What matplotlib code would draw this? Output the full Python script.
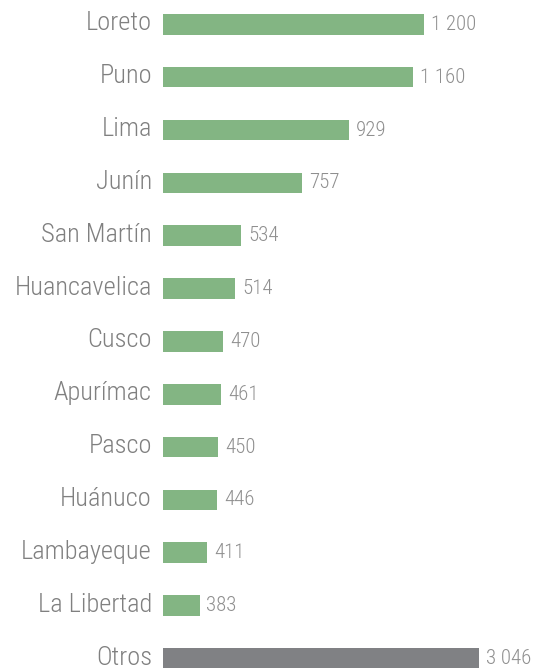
import matplotlib.pyplot as plt
from matplotlib import font_manager
from matplotlib.textpath import TextPath
from matplotlib.font_manager import FontProperties

regiones = ['Loreto', 'Puno', 'Lima', 'Junín', 'San Martín', 'Huancavelica', 'Cusco',
            'Apurímac', 'Pasco', 'Huánuco', 'Lambayeque', 'La Libertad', 'Otros']
valores = [1200, 1160, 929, 757, 534, 514, 470, 461, 450, 446, 411, 383, 3046]
etiquetas = ['1 200', '1 160', '929', '757', '534', '514', '470', '461', '450', '446',
             '411', '383', '3 046']

verde = '#83b583'
gris_barra = '#808184'
gris_texto = '#808080'

# buscar una fuente estrecha
nombres = {f.name for f in font_manager.fontManager.ttflist}
familia, estiramiento = 'DejaVu Sans', 'condensed'
for n in ['Roboto Condensed', 'Liberation Sans Narrow', 'Open Sans Condensed']:
    if n in nombres:
        familia, estiramiento = n, 'normal'
        break
peso = 'light'

def tam_para(texto, ancho_px):
    fp = FontProperties(family=familia, stretch=estiramiento, weight=peso, size=10)
    w = TextPath((0, 0), texto, prop=fp).get_extents().width  # en pt a size 10
    return 10 * ancho_px * 0.72 / w

tam_cat = min(tam_para('Huancavelica', 146), 19)
tam_val = min(tam_para('1 200', 44), 15)

fig = plt.figure(figsize=(5.38, 6.68), dpi=100)
ax = fig.add_axes([163 / 538, 0, 316 / 538, 1])

colores = [verde] * (len(valores) - 1) + [gris_barra]
pos = list(range(len(valores)))
ax.barh(pos, valores, height=0.39, color=colores)

# escala visual aproximada del grafico original
xmin, xmax = 250, 1401
ax.set_xlim(xmin, xmax)
ax.set_ylim(12.18, -0.46)
ax.set_xticks([])
ax.set_yticks([])
for s in ax.spines.values():
    s.set_visible(False)

# nombres de las regiones, un poco por encima del centro de la barra
for i, r in enumerate(regiones):
    ax.annotate(r, xy=(xmin, i), xytext=(-8, 2.5), textcoords='offset points',
                ha='right', va='center_baseline', fontsize=tam_cat, color=gris_texto,
                family=familia, stretch=estiramiento, weight=peso, annotation_clip=False)

for i, (v, t) in enumerate(zip(valores, etiquetas)):
    ax.annotate(t, xy=(min(v, xmax), i), xytext=(5, 0), textcoords='offset points',
                ha='left', va='center', fontsize=tam_val, color='#8f8f8f',
                family=familia, stretch=estiramiento, weight=peso)

fig.savefig('out.png', dpi=100)
